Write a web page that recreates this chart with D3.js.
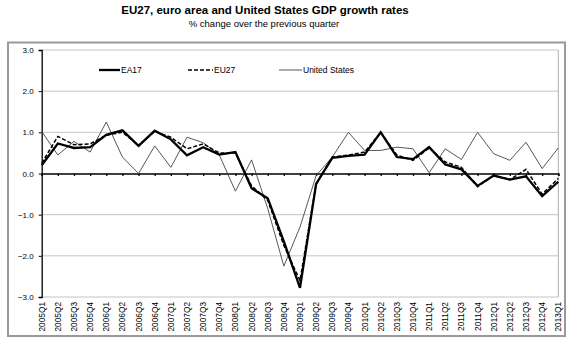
<!DOCTYPE html>
<html>
<head>
<meta charset="utf-8">
<script src="https://cdn.jsdelivr.net/npm/d3@7"></script>
<style>
  body { margin: 0; background: #fff; }
  text { font-family: "Liberation Sans", Arial, sans-serif; }
</style>
</head>
<body>
<svg id="chart" width="568" height="346"></svg>
<script>
// quarters 2005Q1 .. 2013Q1
var quarters = [];
for (var y = 2005; y <= 2013; y++) {
    for (var q = 1; q <= 4; q++) {
        if (y === 2013 && q > 1) break;
        quarters.push(y + "Q" + q);
    }
}

var ea17 = [0.2, 0.73, 0.62, 0.64, 0.94, 1.05, 0.67, 1.04, 0.83, 0.44, 0.64, 0.46, 0.52,
    -0.36, -0.6, -1.65, -2.78, -0.25, 0.38, 0.43, 0.46, 1.0, 0.4, 0.35, 0.64, 0.22, 0.1,
    -0.3, -0.05, -0.15, -0.07, -0.55, -0.2];
var eu27 = [0.25, 0.9, 0.7, 0.72, 0.93, 1.0, 0.68, 1.02, 0.88, 0.6, 0.72, 0.5, 0.5,
    -0.3, -0.65, -1.75, -2.6, -0.25, 0.4, 0.45, 0.52, 1.0, 0.45, 0.32, 0.62, 0.28, 0.15,
    -0.32, -0.05, -0.15, 0.1, -0.5, -0.12];
var us = [1.02, 0.45, 0.78, 0.52, 1.25, 0.4, 0.0, 0.67, 0.15, 0.88, 0.75, 0.45, -0.43,
    0.33, -0.85, -2.25, -1.3, -0.05, 0.4, 1.0, 0.56, 0.56, 0.64, 0.6, 0.02, 0.6, 0.34,
    1.0, 0.48, 0.32, 0.76, 0.12, 0.62];

var yTicks = [3, 2, 1, 0, -1, -2, -3];
var seriesNames = ["EA17", "EU27", "United States"];

var svg = d3.select("#chart");

var plot = { left: 41.7, right: 558.3, top: 50, bottom: 297 };

// title
svg.append("text")
    .attr("x", 265).attr("y", 14)
    .attr("text-anchor", "middle")
    .style("font-size", "11.5px").style("font-weight", "700")
    .text("EU27, euro area and United States GDP growth rates");
svg.append("text")
    .attr("x", 264).attr("y", 27)
    .attr("text-anchor", "middle")
    .style("font-size", "9.5px")
    .text("% change over the previous quarter");

// outer frame
svg.append("rect")
    .attr("x", 8).attr("y", 42.5)
    .attr("width", 557).attr("height", 293.5)
    .attr("fill", "none").attr("stroke", "#9a9a9a").attr("stroke-width", 2);

var x = d3.scalePoint()
    .domain(quarters)
    .range([plot.left, plot.right])
    .padding(0);

var yScale = d3.scaleLinear()
    .domain([-3, 3])
    .range([plot.bottom, plot.top]);

// gridlines
svg.append("g")
    .selectAll("line")
    .data(yTicks.filter(d => d !== 0))
    .enter().append("line")
    .attr("x1", plot.left).attr("x2", plot.right)
    .attr("y1", d => yScale(d)).attr("y2", d => yScale(d))
    .attr("stroke", "#c4c4c4").attr("stroke-width", 1);

// plot border right
svg.append("line")
    .attr("x1", plot.right).attr("x2", plot.right)
    .attr("y1", plot.top).attr("y2", plot.bottom)
    .attr("stroke", "#b0b0b0").attr("stroke-width", 1);

// y axis
var yAxis = d3.axisLeft(yScale)
    .tickValues(yTicks)
    .tickFormat(d3.format(".1f"))
    .tickSize(3)
    .tickPadding(5);
var gy = svg.append("g")
    .attr("transform", "translate(" + plot.left + ",0)")
    .call(yAxis);
gy.select(".domain").attr("stroke", "#000").attr("stroke-width", 1.3);
gy.selectAll("text")
    .style("font-size", "8px")
    .style("font-family", "'Liberation Sans', Arial, sans-serif")
    .attr("fill", "#000");

// zero axis with category ticks
var xAxis = d3.axisBottom(x)
    .tickSize(2.5)
    .tickFormat("");
var gx = svg.append("g")
    .attr("transform", "translate(0," + yScale(0) + ")")
    .call(xAxis);
gx.select(".domain").attr("stroke", "#000").attr("stroke-width", 1.5);
gx.selectAll(".tick line").attr("stroke", "#000").attr("stroke-width", 1.3);

// x labels at bottom, rotated
svg.append("g")
    .selectAll("text")
    .data(quarters)
    .enter().append("text")
    .attr("transform", d => "translate(" + (x(d) + 3) + "," + (plot.bottom + 5) + ") rotate(-90)")
    .attr("text-anchor", "end")
    .style("font-size", "8.3px")
    .text(d => d);

// lines
var line = d3.line()
    .x((d, i) => x(quarters[i]))
    .y(d => yScale(d));

svg.append("path")
    .datum(us)
    .attr("d", line)
    .attr("fill", "none").attr("stroke", "#444").attr("stroke-width", 0.9);

svg.append("path")
    .datum(eu27)
    .attr("d", line)
    .attr("fill", "none").attr("stroke", "#000").attr("stroke-width", 1.5)
    .attr("stroke-dasharray", "4,2");

svg.append("path")
    .datum(ea17)
    .attr("d", line)
    .attr("fill", "none").attr("stroke", "#000").attr("stroke-width", 2.3);

// legend
var legendItems = [
    { name: seriesNames[0], x1: 99, x2: 120, width: 2.3, dash: null, color: "#000" },
    { name: seriesNames[1], x1: 188, x2: 213, width: 1.5, dash: "4,2", color: "#000" },
    { name: seriesNames[2], x1: 279, x2: 302, width: 0.9, dash: null, color: "#444" }
];
var legend = svg.append("g").attr("transform", "translate(0,70)");
var lg = legend.selectAll("g").data(legendItems).enter().append("g");
lg.append("line")
    .attr("x1", d => d.x1).attr("x2", d => d.x2)
    .attr("y1", 0).attr("y2", 0)
    .attr("stroke", d => d.color)
    .attr("stroke-width", d => d.width)
    .attr("stroke-dasharray", d => d.dash);
lg.append("text")
    .attr("x", d => d.x2 + 1)
    .attr("y", 3)
    .style("font-size", "8.5px")
    .text(d => d.name);
</script>
</body>
</html>
